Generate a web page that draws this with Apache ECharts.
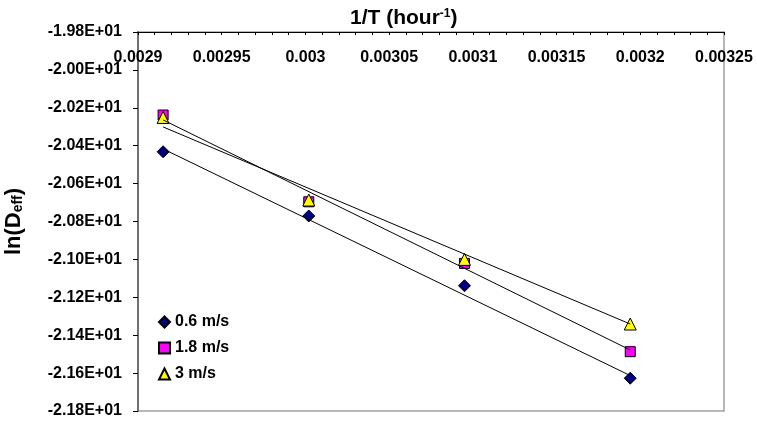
<!DOCTYPE html>
<html>
<head>
<meta charset="utf-8">
<script src="https://cdn.jsdelivr.net/npm/echarts@6/dist/echarts.min.js"></script>
<style>
  html, body { margin: 0; padding: 0; background: #fff; }
  #chart { width: 757px; height: 424px; }
</style>
</head>
<body>
<div id="chart"></div>
<script>
// 1/T values (hour^-1) and ln(Deff) per air velocity
const invT = [0.002915, 0.003002, 0.003095, 0.003194];
const lnD06 = [-20.432, -20.771, -21.139, -21.627];
const lnD18 = [-20.238, -20.696, -21.021, -21.487];
const lnD30 = [-20.251, -20.687, -21.000, -21.341];

// trendline end points
const trendX = [0.002915, 0.003194];
const trend06 = [-20.417, -21.613];
const trend18 = [-20.264, -21.478];
const trend30 = [-20.301, -21.341];

const seriesNames = ['0.6 m/s', '1.8 m/s', '3 m/s'];

const FONT = '"Liberation Sans", Arial, sans-serif';

function pairs(xs, ys) {
  return xs.map((x, i) => [x, ys[i]]);
}

// -1.98E+01 style
function sciLabel(v) {
  const e = Math.floor(Math.log10(Math.abs(v)));
  const m = v / Math.pow(10, e);
  return m.toFixed(2) + 'E' + (e >= 0 ? '+' : '-') + String(Math.abs(e)).padStart(2, '0');
}

const myChart = echarts.init(document.getElementById('chart'));

const pointStyle = [
  { symbol: 'diamond', size: 12, color: '#000080' },
  { symbol: 'rect', size: 10, color: '#ff00ff' },
  { symbol: 'triangle', size: 12, color: '#ffff00' },
];
const pointData = [lnD06, lnD18, lnD30];
const trendData = [trend06, trend18, trend30];

const series = [];
seriesNames.forEach((name, i) => {
  series.push({
    name: name,
    type: 'scatter',
    symbol: pointStyle[i].symbol,
    symbolSize: pointStyle[i].size,
    itemStyle: { color: pointStyle[i].color, borderColor: '#000', borderWidth: 1, opacity: 1 },
    data: pairs(invT, pointData[i]),
    z: 2,
  });
});
seriesNames.forEach((name, i) => {
  series.push({
    name: name + ' trend',
    type: 'line',
    symbol: 'none',
    silent: true,
    lineStyle: { color: '#000', width: 1 },
    data: pairs(trendX, trendData[i]),
    z: 3,
  });
});

const option = {
  animation: false,
  backgroundColor: '#fff',
  title: {
    text: '{a|1/T (hour}{s|-1}{a|)}',
    left: 345,
    top: 3,
    textStyle: {
      rich: {
        a: { fontSize: 21, fontWeight: 'bold', fontFamily: FONT, color: '#000' },
        s: { fontSize: 12, fontWeight: 'bold', fontFamily: FONT, color: '#000', verticalAlign: 'top' },
      },
    },
  },
  legend: {
    orient: 'vertical',
    left: 153,
    top: 309,
    itemWidth: 11,
    itemHeight: 11,
    itemGap: 10,
    textStyle: { fontSize: 16, fontWeight: 'bold', fontFamily: FONT, color: '#000' },
    data: seriesNames.map((n, i) => ({ name: n, icon: pointStyle[i].symbol })),
  },
  grid: {
    left: 138,
    top: 32,
    right: 33,
    bottom: 13,
    outerBoundsMode: 'none',
    show: true,
    borderColor: '#a0a0a0',
    borderWidth: 1.5,
  },
  xAxis: {
    type: 'value',
    position: 'top',
    min: 0.0029,
    max: 0.00325,
    interval: 0.00005,
    axisLine: { show: true, lineStyle: { color: '#000', width: 1 } },
    axisTick: { show: true, inside: true, length: 3, lineStyle: { color: '#000' } },
    minorTick: { show: true, splitNumber: 5, length: 3, lineStyle: { color: '#000' } },
    splitLine: { show: false },
    axisLabel: {
      inside: true,
      margin: 18,
      fontSize: 16,
      fontWeight: 'bold',
      fontFamily: FONT,
      color: '#000',
      formatter: v => String(parseFloat(v.toPrecision(6))),
    },
  },
  yAxis: {
    type: 'value',
    min: -21.8,
    max: -19.8,
    interval: 0.2,
    name: '{a|ln(D}{b|eff}{a|)}',
    nameLocation: 'middle',
    nameRotate: 90,
    nameGap: 113,
    nameTextStyle: {
      rich: {
        a: { fontSize: 22, fontWeight: 'bold', fontFamily: FONT, color: '#000' },
        b: { fontSize: 14, fontWeight: 'bold', fontFamily: FONT, color: '#000', verticalAlign: 'bottom' },
      },
    },
    axisLine: { show: true, lineStyle: { color: '#707070', width: 2 } },
    axisTick: { show: true, inside: false, length: 5, lineStyle: { color: '#000' } },
    splitLine: { show: false },
    axisLabel: {
      margin: 16,
      fontSize: 16,
      fontWeight: 'bold',
      fontFamily: FONT,
      color: '#000',
      formatter: v => sciLabel(v),
    },
  },
  series: series,
};

myChart.setOption(option);
</script>
</body>
</html>
